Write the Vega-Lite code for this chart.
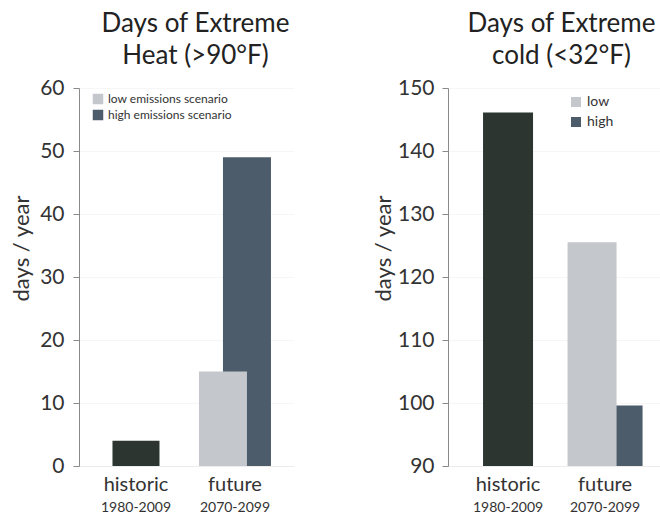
{
  "$schema": "https://vega.github.io/schema/vega-lite/v6.json",
  "background": "white",
  "padding": {"left": 10, "top": 11, "right": 0, "bottom": 0},
  "config": {
    "font": "Lato",
    "view": {"stroke": null},
    "title": {"fontSize": 26, "fontWeight": "normal", "color": "#222222", "lineHeight": 32, "offset": 8, "anchor": "middle", "font": "Lato"},
    "axis": {"labelFont": "Lato", "titleFont": "Lato", "labelColor": "#333333", "titleColor": "#333333", "titleFontWeight": "normal"},
    "legend": {"labelFont": "Lato", "labelColor": "#333333"}
  },
  "data": {
    "values": [
      {"chart": "heat", "period": "historic", "scenario": "historic", "days": 4},
      {"chart": "heat", "period": "future", "scenario": "low", "days": 15},
      {"chart": "heat", "period": "future", "scenario": "high", "days": 49},
      {"chart": "cold", "period": "historic", "scenario": "historic", "days": 146.1},
      {"chart": "cold", "period": "future", "scenario": "low", "days": 125.5},
      {"chart": "cold", "period": "future", "scenario": "high", "days": 99.6}
    ]
  },
  "spacing": 78,
  "hconcat": [
    {
      "width": 215,
      "height": 378,
      "title": {"text": ["Days of Extreme", "Heat (>90°F)"], "dx": 9},
      "transform": [{"filter": "datum.chart === 'heat'"}],
      "layer": [
        {
          "transform": [{"filter": "datum.scenario === 'historic'"}],
          "mark": {"type": "bar", "width": 47},
          "encoding": {
            "x": {"field": "period", "type": "nominal", "sort": ["historic", "future"],
              "scale": {"domain": ["historic", "future"], "paddingInner": 0, "paddingOuter": 0.086, "align": 0.44},
              "axis": {"orient": "bottom", "title": null, "labelAngle": 0, "labelFontSize": 20, "labelPadding": 8, "ticks": false, "domainColor": "#ececec", "grid": false}},
            "y": {"field": "days", "type": "quantitative",
              "scale": {"domain": [0, 60], "nice": false},
              "axis": {"title": "days / year", "titleFontSize": 22, "titlePadding": 6, "titleY": 160, "values": [0, 10, 20, 30, 40, 50, 60], "labelFontSize": 21, "labelPadding": 9, "tickSize": 6, "tickColor": "#8a8a8a", "domainColor": "#8a8a8a", "grid": true, "gridColor": "#f6f6f6"}},
            "color": {"field": "scenario", "type": "nominal",
              "scale": {"domain": ["historic", "low", "high"], "range": ["#2c3530", "#c4c7cc", "#4d5c6a"]},
              "legend": {"orient": "none", "legendX": 13, "legendY": 5, "values": ["low", "high"], "labelExpr": "datum.label + ' emissions scenario'", "title": null, "symbolType": "square", "symbolSize": 110, "symbolStrokeWidth": 0, "labelFontSize": 12, "rowPadding": 4}}
          }
        },
        {
          "transform": [{"filter": "datum.scenario === 'high'"}],
          "mark": {"type": "bar", "width": 48, "xOffset": 12},
          "encoding": {
            "x": {"field": "period", "type": "nominal",
              "scale": {"domain": ["historic", "future"]},
              "axis": {"orient": "bottom", "title": null, "labelAngle": 0, "labelExpr": "datum.value === 'historic' ? '1980-2009' : '2070-2099'", "labelFontSize": 14, "labelPadding": 34, "ticks": false, "domain": false, "grid": false}},
            "y": {"field": "days", "type": "quantitative"},
            "color": {"field": "scenario", "type": "nominal"}
          }
        },
        {
          "transform": [{"filter": "datum.scenario === 'low'"}],
          "mark": {"type": "bar", "width": 48, "xOffset": -12},
          "encoding": {
            "x": {"field": "period", "type": "nominal", "scale": {"domain": ["historic", "future"]}, "axis": null},
            "y": {"field": "days", "type": "quantitative"},
            "color": {"field": "scenario", "type": "nominal"}
          }
        }
      ],
      "resolve": {"axis": {"x": "independent"}}
    },
    {
      "width": 215,
      "height": 378,
      "title": {"text": ["Days of Extreme", "cold (<32°F)"], "dx": 6},
      "transform": [{"filter": "datum.chart === 'cold'"}],
      "layer": [
        {
          "transform": [{"filter": "datum.scenario === 'historic'"}],
          "mark": {"type": "bar", "width": 50, "clip": true},
          "encoding": {
            "x": {"field": "period", "type": "nominal", "sort": ["historic", "future"],
              "scale": {"domain": ["historic", "future"], "paddingInner": 0, "paddingOuter": 0.108, "align": 0.55},
              "axis": {"orient": "bottom", "title": null, "labelAngle": 0, "labelFontSize": 20, "labelPadding": 8, "ticks": false, "domainColor": "#ececec", "grid": false}},
            "y": {"field": "days", "type": "quantitative",
              "scale": {"domain": [90, 150], "nice": false, "zero": false},
              "axis": {"title": "days / year", "titleFontSize": 22, "titlePadding": 2, "titleY": 160, "values": [90, 100, 110, 120, 130, 140, 150], "labelFontSize": 21, "labelPadding": 8, "tickSize": 6, "tickColor": "#8a8a8a", "domainColor": "#8a8a8a", "grid": true, "gridColor": "#f6f6f6"}},
            "color": {"field": "scenario", "type": "nominal",
              "scale": {"domain": ["historic", "low", "high"], "range": ["#2c3530", "#c4c7cc", "#4d5c6a"]},
              "legend": {"orient": "none", "legendX": 121, "legendY": 7, "values": ["low", "high"], "title": null, "symbolType": "square", "symbolSize": 100, "symbolStrokeWidth": 0, "labelFontSize": 14, "rowPadding": 6}}
          }
        },
        {
          "transform": [{"filter": "datum.scenario === 'high'"}],
          "mark": {"type": "bar", "width": 49, "xOffset": 13, "clip": true},
          "encoding": {
            "x": {"field": "period", "type": "nominal",
              "scale": {"domain": ["historic", "future"]},
              "axis": {"orient": "bottom", "title": null, "labelAngle": 0, "labelExpr": "datum.value === 'historic' ? '1980-2009' : '2070-2099'", "labelFontSize": 14, "labelPadding": 34, "ticks": false, "domain": false, "grid": false}},
            "y": {"field": "days", "type": "quantitative"},
            "color": {"field": "scenario", "type": "nominal"}
          }
        },
        {
          "transform": [{"filter": "datum.scenario === 'low'"}],
          "mark": {"type": "bar", "width": 49, "xOffset": -13, "clip": true},
          "encoding": {
            "x": {"field": "period", "type": "nominal", "scale": {"domain": ["historic", "future"]}, "axis": null},
            "y": {"field": "days", "type": "quantitative"},
            "color": {"field": "scenario", "type": "nominal"}
          }
        }
      ],
      "resolve": {"axis": {"x": "independent"}}
    }
  ],
  "resolve": {"scale": {"color": "independent"}}
}
